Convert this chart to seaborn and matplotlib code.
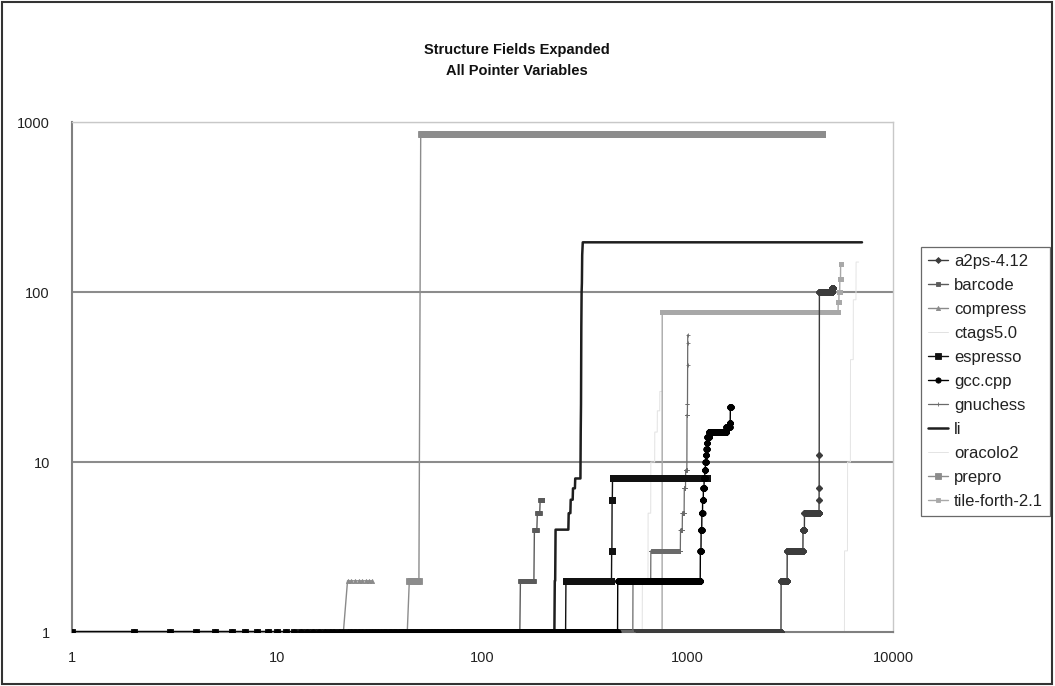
import numpy as np
import pandas as pd
import matplotlib
matplotlib.use("Agg")
import matplotlib.pyplot as plt
import seaborn as sns
from matplotlib.patches import Rectangle

# ---- data: each series is a sorted step curve, stored run-length encoded ----
# (value of each run, last rank index of that run)
series_names = ["a2ps-4.12", "barcode", "compress", "ctags5.0", "espresso",
                "gcc.cpp", "gnuchess", "li", "oracolo2", "prepro", "tile-forth-2.1"]

a2ps_vals = [1, 2, 3, 4, 5, 6, 7, 11, 100, 105]
a2ps_ends = [2846, 3048, 3640, 3700, 4360, 4364, 4368, 4372, 5040, 5100]

barcode_vals = [1, 2, 4, 5, 6]
barcode_ends = [152, 178, 184, 190, 196]

compress_vals = [1, 2]
compress_ends = [21, 29]

ctags_vals = [1, 2, 5, 10, 15, 20, 26]
ctags_ends = [600, 640, 660, 690, 710, 730, 750]

espresso_vals = [1, 2, 3, 6, 8]
espresso_ends = [254, 425, 427, 429, 1245]

gcc_vals = [1, 2, 3, 4, 5, 6, 7, 8, 9, 10, 11, 12, 13, 14, 15, 16, 17, 21]
gcc_ends = [455, 1150, 1160, 1170, 1180, 1190, 1200, 1210, 1218, 1225, 1232,
            1238, 1244, 1270, 1540, 1600, 1610, 1620]

gnuchess_vals = [1, 2, 3, 4, 5, 7, 9, 19, 22, 37, 50, 56]
gnuchess_ends = [540, 660, 920, 940, 960, 975, 990, 995, 997, 998, 999, 1000]

li_vals = [1, 2, 4, 5, 6, 7, 8, 15, 22, 62, 100, 113, 165, 181, 196]
li_ends = [224, 226, 262, 268, 275, 282, 300, 301, 302, 303, 304, 305, 306, 307, 7063]

oracolo_vals = [1, 3, 10, 40, 90, 150]
oracolo_ends = [5800, 6000, 6200, 6400, 6600, 6800]

prepro_vals = [1, 2, 850]
prepro_ends = [43, 49, 4510]

tile_vals = [1, 76, 87, 100, 120, 147]
tile_ends = [750, 5400, 5450, 5500, 5550, 5600]

runs = {
    "a2ps-4.12": (a2ps_vals, a2ps_ends),
    "barcode": (barcode_vals, barcode_ends),
    "compress": (compress_vals, compress_ends),
    "ctags5.0": (ctags_vals, ctags_ends),
    "espresso": (espresso_vals, espresso_ends),
    "gcc.cpp": (gcc_vals, gcc_ends),
    "gnuchess": (gnuchess_vals, gnuchess_ends),
    "li": (li_vals, li_ends),
    "oracolo2": (oracolo_vals, oracolo_ends),
    "prepro": (prepro_vals, prepro_ends),
    "tile-forth-2.1": (tile_vals, tile_ends),
}

def expand(vals, ends):
    counts = np.diff([0] + list(ends))
    y = np.repeat(np.asarray(vals, float), counts)
    x = np.arange(1, len(y) + 1)
    return pd.DataFrame({"x": x, "y": y})

# ---- styles ----
styles = {
    "a2ps-4.12":      dict(color="#3c3c3c", marker="D", ms=3.0, lw=1.0, z=6),
    "barcode":        dict(color="#5a5a5a", marker="s", ms=3.0, lw=1.0, z=5),
    "compress":       dict(color="#8a8a8a", marker="^", ms=3.0, lw=1.0, z=4),
    "ctags5.0":       dict(color="#e2e2e2", marker="", ms=0, lw=0.7, z=2),
    "espresso":       dict(color="#111111", marker="s", ms=4.2, lw=1.0, z=8),
    "gcc.cpp":        dict(color="#000000", marker="o", ms=3.8, lw=1.0, z=9),
    "gnuchess":       dict(color="#6a6a6a", marker="+", ms=3.5, lw=0.9, z=6),
    "li":             dict(color="#1e1e1e", marker="", ms=0, lw=1.8, z=7),
    "oracolo2":       dict(color="#e4e4e4", marker="", ms=0, lw=0.7, z=2),
    "prepro":         dict(color="#8c8c8c", marker="s", ms=4.4, lw=1.0, z=3),
    "tile-forth-2.1": dict(color="#a8a8a8", marker="s", ms=3.4, lw=1.0, z=3),
}

sns.set_theme(style="white")
plt.rcParams["font.family"] = ["Liberation Sans", "DejaVu Sans"]

fig = plt.figure(figsize=(10.55, 6.86), dpi=100)
ax = fig.add_axes([72 / 1055, 1 - 632 / 686, (893 - 72) / 1055, (632 - 122) / 686])

for name in series_names:
    df = expand(*runs[name])
    st = styles[name]
    sns.lineplot(data=df, x="x", y="y", ax=ax, color=st["color"], linewidth=st["lw"],
                 marker=st["marker"] if st["marker"] else None,
                 markersize=st["ms"], markeredgewidth=0.6, markeredgecolor=st["color"],
                 estimator=None, sort=False, errorbar=None, label=name, zorder=st["z"])

ax.set_xscale("log")
ax.set_yscale("log")
ax.set_xlim(1, 10000)
ax.set_ylim(1, 1000)
ax.set_xticks([1, 10, 100, 1000, 10000])
ax.set_xticklabels(["1", "10", "100", "1000", "10000"])
ax.set_yticks([1, 10, 100, 1000])
ax.set_yticklabels(["1", "10", "100", "1000"])
ax.minorticks_off()
ax.set_xlabel("")
ax.set_ylabel("")
ax.tick_params(axis="both", labelsize=10.5, colors="#222222", length=4, width=0.8,
               direction="out")
ax.tick_params(axis="x", pad=10)
ax.tick_params(axis="y", pad=12)
for t in ax.get_xticklines() + ax.get_yticklines():
    t.set_color("#808080")

ax.grid(False)
for yv in [10, 100, 1000]:
    ax.axhline(yv, color="#8c8c8c", linewidth=1.5, zorder=1)

for side in ["left", "bottom"]:
    ax.spines[side].set_color("#808080")
    ax.spines[side].set_linewidth(1.5)
for side in ["top", "right"]:
    ax.spines[side].set_color("#c8c8c8")
    ax.spines[side].set_linewidth(1.0)

if ax.get_legend():
    ax.get_legend().remove()
handles, labels = ax.get_legend_handles_labels()
leg = fig.legend(handles, labels, loc="upper left",
                 bbox_to_anchor=(921 / 1055, 1 - 247 / 686), borderaxespad=0,
                 frameon=True, fontsize=12, handlelength=1.2, handletextpad=0.35,
                 labelspacing=0.54, borderpad=0.42, fancybox=False)
leg.get_frame().set_edgecolor("#444444")
leg.get_frame().set_linewidth(0.9)
for txt in leg.get_texts():
    txt.set_color("#222222")

fig.text(517 / 1055, 1 - 50 / 686, "Structure Fields Expanded", ha="center", va="center",
         fontsize=10.5, fontweight="bold", color="#111111")
fig.text(517 / 1055, 1 - 71 / 686, "All Pointer Variables", ha="center", va="center",
         fontsize=10.5, fontweight="bold", color="#111111")

fig.patches.append(Rectangle((0.002, 0.003), 0.995, 0.994, transform=fig.transFigure,
                             fill=False, edgecolor="#333333", linewidth=1.5))

fig.savefig("out.png", dpi=100, facecolor="white")
